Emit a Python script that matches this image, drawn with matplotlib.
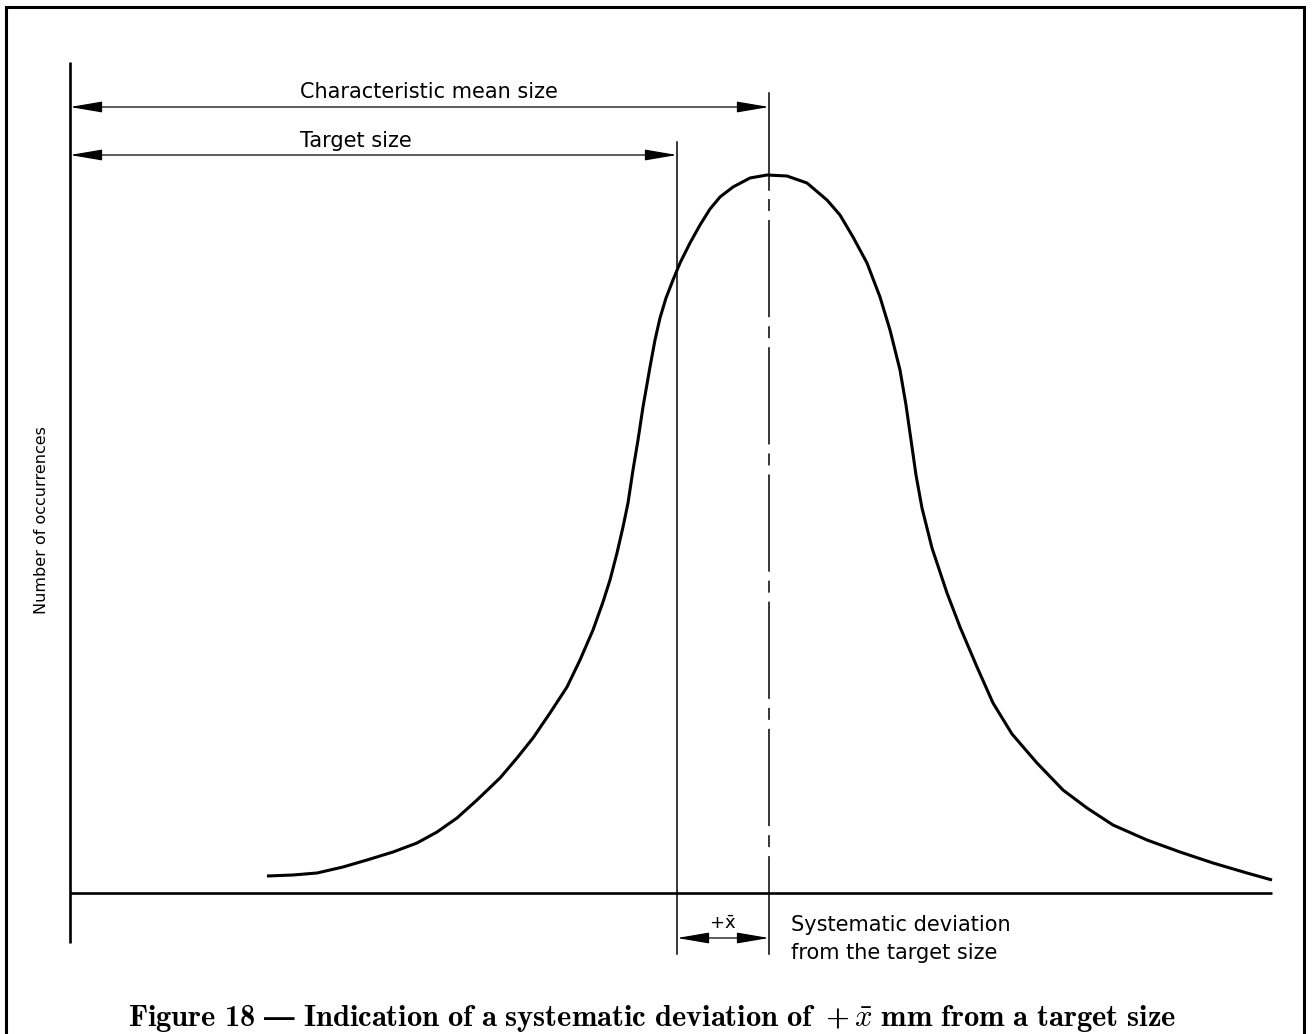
import matplotlib.pyplot as plt
from matplotlib import font_manager
from matplotlib.patches import FancyArrowPatch, Rectangle

# ---- data (origin at the axis corner) ----
curve_x = [197, 223, 247, 273, 297, 323, 347, 367, 387, 407, 430, 447, 463, 480,
           497, 510, 523, 533, 540, 547, 553, 558, 563, 568, 573, 580, 585, 590,
           596, 603, 610, 620, 630, 640, 650, 663, 680, 697,
           717, 737, 757, 770, 783, 797, 810, 820, 830, 836, 841, 846, 852, 862,
           877, 890, 907, 923, 942, 967, 993, 1017, 1043, 1077, 1110, 1143, 1177,
           1202]
curve_y = [17, 18, 20, 26, 33, 41, 50, 61, 75, 93, 115, 135, 155, 180,
           206, 233, 263, 291, 313, 340, 366, 390, 423, 453, 486, 526, 553, 575,
           595, 613, 630, 650, 668, 684, 696, 706, 715, 718,
           717, 710, 693, 678, 656, 630, 596, 563, 523, 488, 453, 418, 385, 345,
           300, 266, 226, 190, 159, 130, 103, 85, 68, 53, 41, 30, 20,
           13]

target_size = 607
mean_size = 699

x_axis_end = 1202
y_axis_top = 831
ext_bottom = -61

labels_top = ["Characteristic mean size", "Target size"]
label_y = "Number of occurrences"
label_dev = "Systematic deviation\nfrom the target size"
caption = (r"$\mathbf{Figure\ 18\ —\ Indication\ of\ a\ systematic\ deviation\ of\ +}"
           r"\bar{x}\ \mathbf{mm\ from\ a\ target\ size}$")

# ---- fonts ----
names = {f.name for f in font_manager.fontManager.ttflist}
iso = "Liberation Sans Narrow" if "Liberation Sans Narrow" in names else "DejaVu Sans"
plt.rcParams['lines.scale_dashes'] = False
plt.rcParams['mathtext.bf'] = 'cmb10'
plt.rcParams['mathtext.it'] = 'cmmi10'
plt.rcParams['mathtext.rm'] = 'cmr10'
plt.rcParams['mathtext.fallback'] = 'stix'

W, H = 1314, 1034
fig = plt.figure(figsize=(W / 100, H / 100), dpi=100)
ax = fig.add_axes([0, 0, 1, 1])
ax.set_xlim(-70, W - 70)
ax.set_ylim(893 - H, 893)
ax.axis('off')

# frame round the figure
ax.add_patch(Rectangle((-64, -400), 1298, 886 + 400, fill=False, lw=2.2,
                       ec='black'))

# axes
ax.plot([0, 0], [-50, y_axis_top], color='black', lw=1.9, solid_capstyle='butt')
ax.plot([0, x_axis_end], [0, 0], color='black', lw=1.9, solid_capstyle='butt')

# distribution curve
ax.plot(curve_x, curve_y, color='black', lw=2.2, solid_capstyle='butt',
        solid_joinstyle='round')

# target size line
ax.plot([target_size, target_size], [ext_bottom, 751], color='black', lw=1.1)

# mean size centre line
ax.plot([mean_size, mean_size], [703, 800], color='black', lw=1.1)
ax.plot([mean_size, mean_size], [703, 0], color='black', lw=1.1,
        linestyle=(70, (70, 6.5, 8.6, 6.5)))
ax.plot([mean_size, mean_size], [0, ext_bottom], color='black', lw=1.1)


def dim_arrow(x0, x1, y):
    ax.add_patch(FancyArrowPatch((x0, y), (x1, y),
                                 arrowstyle='<|-|>,head_length=20,head_width=3.4',
                                 mutation_scale=1, lw=0.9, color='black',
                                 shrinkA=0, shrinkB=0))


dim_arrow(0, mean_size, 786)
dim_arrow(0, target_size, 738)
dim_arrow(target_size, mean_size, -45)

ax.text(230, 801, labels_top[0], fontsize=15, family=iso, ha='left', va='center')
ax.text(230, 752, labels_top[1], fontsize=15, family=iso, ha='left', va='center')
ax.text(-28, 373, label_y, fontsize=11.5, family=iso, rotation=90,
        ha='center', va='center')
ax.text((target_size + mean_size) / 2, -31, r"+$\bar{\mathrm{x}}$", fontsize=13,
        family=iso, math_fontfamily='dejavusans', ha='center', va='center')
ax.text(721, -46, label_dev, fontsize=15, family=iso, ha='left', va='center',
        linespacing=1.45)

ax.text(582, -133, caption, fontsize=22, math_fontfamily='custom',
        ha='center', va='baseline')

plt.savefig("out.png", dpi=100)
